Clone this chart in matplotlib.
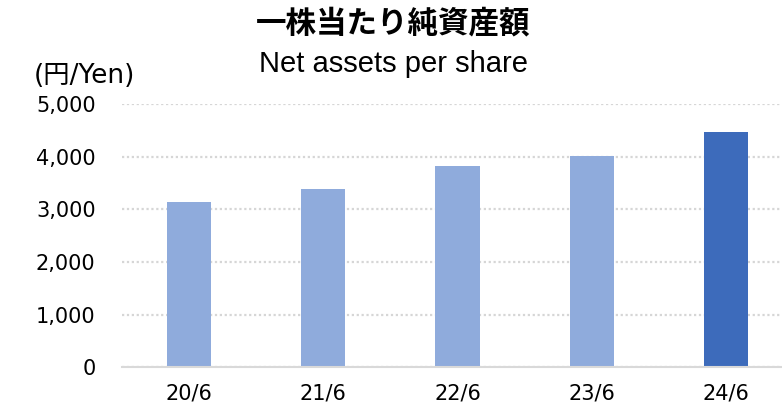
import matplotlib.pyplot as plt
import numpy as np

periods = ["20/6", "21/6", "22/6", "23/6", "24/6"]
net_assets = [3139, 3386, 3823, 4013, 4475]
bar_colors = ["#8FABDC", "#8FABDC", "#8FABDC", "#8FABDC", "#3D6BBB"]
yticks = [0, 1000, 2000, 3000, 4000, 5000]

fig = plt.figure(figsize=(7.82, 4.12), dpi=100)
ax = fig.add_axes([0.156, 0.109, 0.858, 0.638])

x = np.arange(len(periods))
ax.bar(x, net_assets, width=0.33, color=bar_colors, zorder=3)

ax.set_xlim(-0.5, len(periods) - 0.5)
ax.set_ylim(0, 5000)
ax.set_yticks(yticks)
ax.set_yticklabels([f"{v:,}" for v in yticks], family="DejaVu Sans", fontsize=15)
ax.set_xticks(x)
ax.set_xticklabels(periods, family="DejaVu Sans", fontsize=15)
ax.tick_params(length=0)
ax.tick_params(axis="y", pad=19)
ax.tick_params(axis="x", pad=12)

ax.yaxis.grid(True, color="#D6D6D6", linestyle=(0, (1, 1.2)), linewidth=1.6, zorder=0)
for s in ["top", "right", "left"]:
    ax.spines[s].set_visible(False)
ax.spines["bottom"].set_color("#D9D9D9")
ax.spines["bottom"].set_linewidth(1.5)
ax.spines["bottom"].set_zorder(4)

fig.text(0.503, 0.943, "一株当たり純資産額", ha="center", va="center",
         family=["Noto Sans CJK JP", "DejaVu Sans"], fontweight="bold", fontsize=22)
fig.text(0.503, 0.845, "Net assets per share", ha="center", va="center",
         family="Liberation Sans", fontsize=21)
fig.text(0.043, 0.815, "(円/Yen)", ha="left", va="center",
         family=["DejaVu Sans", "Noto Sans CJK JP"], fontsize=19)

fig.savefig("out.png", dpi=100)
